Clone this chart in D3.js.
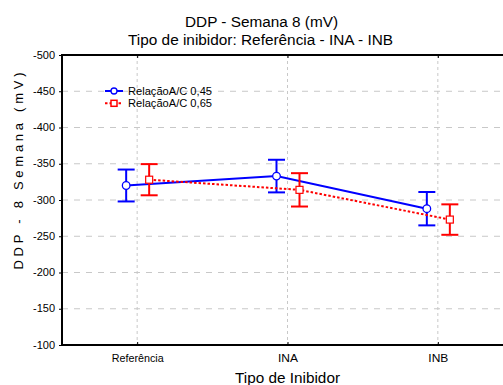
<!DOCTYPE html>
<html><head><meta charset="utf-8">
<script src="https://cdn.jsdelivr.net/npm/d3@7"></script>
<style>
body{margin:0;background:#fff;}
svg{display:block;font-family:"Liberation Sans",Arial,sans-serif;}
</style></head>
<body><svg id="c" width="503" height="385"></svg>
<script>
const categories = ["Referência", "INA", "INB"];
const seriesNames = ["Relação A/C 0,45", "Relação A/C 0,65"];
const mean045 = [-320, -333, -288];
const err045 = [22, 22.5, 23];
const mean065 = [-328, -314, -273];
const err065 = [21.5, 23, 21];
const yTicks = [-500, -450, -400, -350, -300, -250, -200, -150, -100];

const svg = d3.select("#c");
const L = 62, R = 513, T = 55, B = 345;
const x = d3.scalePoint().domain(categories).range([L, R]).padding(0.5);
const y = d3.scaleLinear().domain([-500, -100]).range([T, B]);

function fitText(sel, w, mode) {
  sel.attr("textLength", w).attr("lengthAdjust", mode || "spacingAndGlyphs");
  return sel;
}

// titles
fitText(svg.append("text").attr("x", 261.5).attr("y", 27).attr("text-anchor", "middle")
  .attr("font-size", 14).text("DDP - Semana 8 (mV)"), 153);
fitText(svg.append("text").attr("x", 260.5).attr("y", 45).attr("text-anchor", "middle")
  .attr("font-size", 14).text("Tipo de inibidor: Referência - INA - INB"), 265);

// grid
const g = svg.append("g");
g.selectAll("line.hg").data(yTicks.slice(1, -1)).join("line")
  .attr("x1", L).attr("x2", 503).attr("y1", d => y(d)).attr("y2", d => y(d))
  .attr("stroke", "#c8c8c8").attr("stroke-width", 1).attr("stroke-dasharray", "6,6");
g.selectAll("line.vg").data(categories).join("line")
  .attr("x1", d => x(d)).attr("x2", d => x(d)).attr("y1", T).attr("y2", B)
  .attr("stroke", "#c8c8c8").attr("stroke-width", 1).attr("stroke-dasharray", "3,3");

// axes
const ya = svg.append("g").attr("transform", `translate(${L},0)`)
  .call(d3.axisLeft(y).tickValues(yTicks).tickSize(3).tickSizeOuter(0).tickFormat(d => d));
ya.select(".domain").remove();
ya.selectAll("text").attr("font-size", 10).attr("font-family", "Liberation Sans, Arial, sans-serif").attr("fill", "#000").attr("dx", -1)
  .attr("textLength", 22).attr("lengthAdjust", "spacingAndGlyphs");
ya.selectAll("line").attr("stroke", "#000");

const catW = {"Referência": 52, "INA": 20, "INB": 20};
const xa = svg.append("g").attr("transform", `translate(0,${B})`)
  .call(d3.axisBottom(x).tickSize(-3).tickSizeOuter(0));
xa.select(".domain").remove();
xa.selectAll("text").attr("font-size", 10.5).attr("font-family", "Liberation Sans, Arial, sans-serif").attr("fill", "#000")
  .attr("y", 17).attr("dy", 0)
  .attr("textLength", d => catW[d]).attr("lengthAdjust", "spacingAndGlyphs");
xa.selectAll("line").attr("stroke", "#000");

const xt = svg.append("g").attr("transform", `translate(0,${T})`)
  .call(d3.axisTop(x).tickSize(-3).tickFormat(""));
xt.select(".domain").remove();
xt.selectAll("line").attr("stroke", "#000");

// frame
svg.append("line").attr("x1", L).attr("x2", L).attr("y1", T - 1).attr("y2", B + 1).attr("stroke", "#000").attr("stroke-width", 2);
svg.append("line").attr("x1", L - 1).attr("x2", 503).attr("y1", B).attr("y2", B).attr("stroke", "#000").attr("stroke-width", 2);
svg.append("line").attr("x1", L - 1).attr("x2", 503).attr("y1", T).attr("y2", T).attr("stroke", "#000").attr("stroke-width", 2);

// axis titles
fitText(svg.append("text").attr("transform", `translate(23,171) rotate(-90)`)
  .attr("text-anchor", "middle").attr("font-size", 13)
  .text("DDP - 8 Semana (mV)"), 197, "spacing");
fitText(svg.append("text").attr("x", 287.5).attr("y", 383).attr("text-anchor", "middle")
  .attr("font-size", 14).text("Tipo de Inibidor"), 105);

// series
const series = [
  {name: seriesNames[0], mean: mean045, err: err045, color: "#0000ff", dx: -11, dash: null, shape: "circle"},
  {name: seriesNames[1], mean: mean065, err: err065, color: "#ff0000", dx: 12, dash: "2.5,2", shape: "square"}
];
const line = d3.line().x(d => d.x).y(d => d.y);
series.forEach(s => {
  const pts = categories.map((c, i) => ({x: x(c) + s.dx, y: y(s.mean[i]), lo: y(s.mean[i] - s.err[i]), hi: y(s.mean[i] + s.err[i])}));
  const sg = svg.append("g");
  sg.append("path").attr("d", line(pts)).attr("fill", "none").attr("stroke", s.color)
    .attr("stroke-width", 2).attr("stroke-dasharray", s.dash);
  pts.forEach(p => {
    sg.append("line").attr("x1", p.x).attr("x2", p.x).attr("y1", p.lo).attr("y2", p.hi).attr("stroke", s.color).attr("stroke-width", 2);
    [p.lo, p.hi].forEach(yy => sg.append("line").attr("x1", p.x - 8.5).attr("x2", p.x + 8.5).attr("y1", yy).attr("y2", yy).attr("stroke", s.color).attr("stroke-width", 2));
    if (s.shape === "circle") {
      sg.append("circle").attr("cx", p.x).attr("cy", p.y).attr("r", 3.8).attr("fill", "#fff").attr("stroke", s.color).attr("stroke-width", 1.3);
    } else {
      sg.append("rect").attr("x", p.x - 3.5).attr("y", p.y - 3.5).attr("width", 7).attr("height", 7).attr("fill", "#fff").attr("stroke", s.color).attr("stroke-width", 1.2);
    }
  });
});

// legend
const lg = svg.append("g");
series.forEach((s, i) => {
  const ly = 91 + i * 12.3;
  lg.append("line").attr("x1", 105).attr("x2", 123).attr("y1", ly).attr("y2", ly).attr("stroke", s.color).attr("stroke-width", 2).attr("stroke-dasharray", s.dash);
  if (s.shape === "circle") {
    lg.append("circle").attr("cx", 114).attr("cy", ly).attr("r", 3).attr("fill", "#fff").attr("stroke", s.color).attr("stroke-width", 1.3);
  } else {
    lg.append("rect").attr("x", 111).attr("y", ly - 3).attr("width", 6).attr("height", 6).attr("fill", "#fff").attr("stroke", s.color).attr("stroke-width", 1.5);
  }
  fitText(lg.append("text").attr("x", 128).attr("y", ly + 3.5).attr("font-size", 10).text(s.name.replace(" A/C", "A/C")), 84);
});
</script></body></html>
